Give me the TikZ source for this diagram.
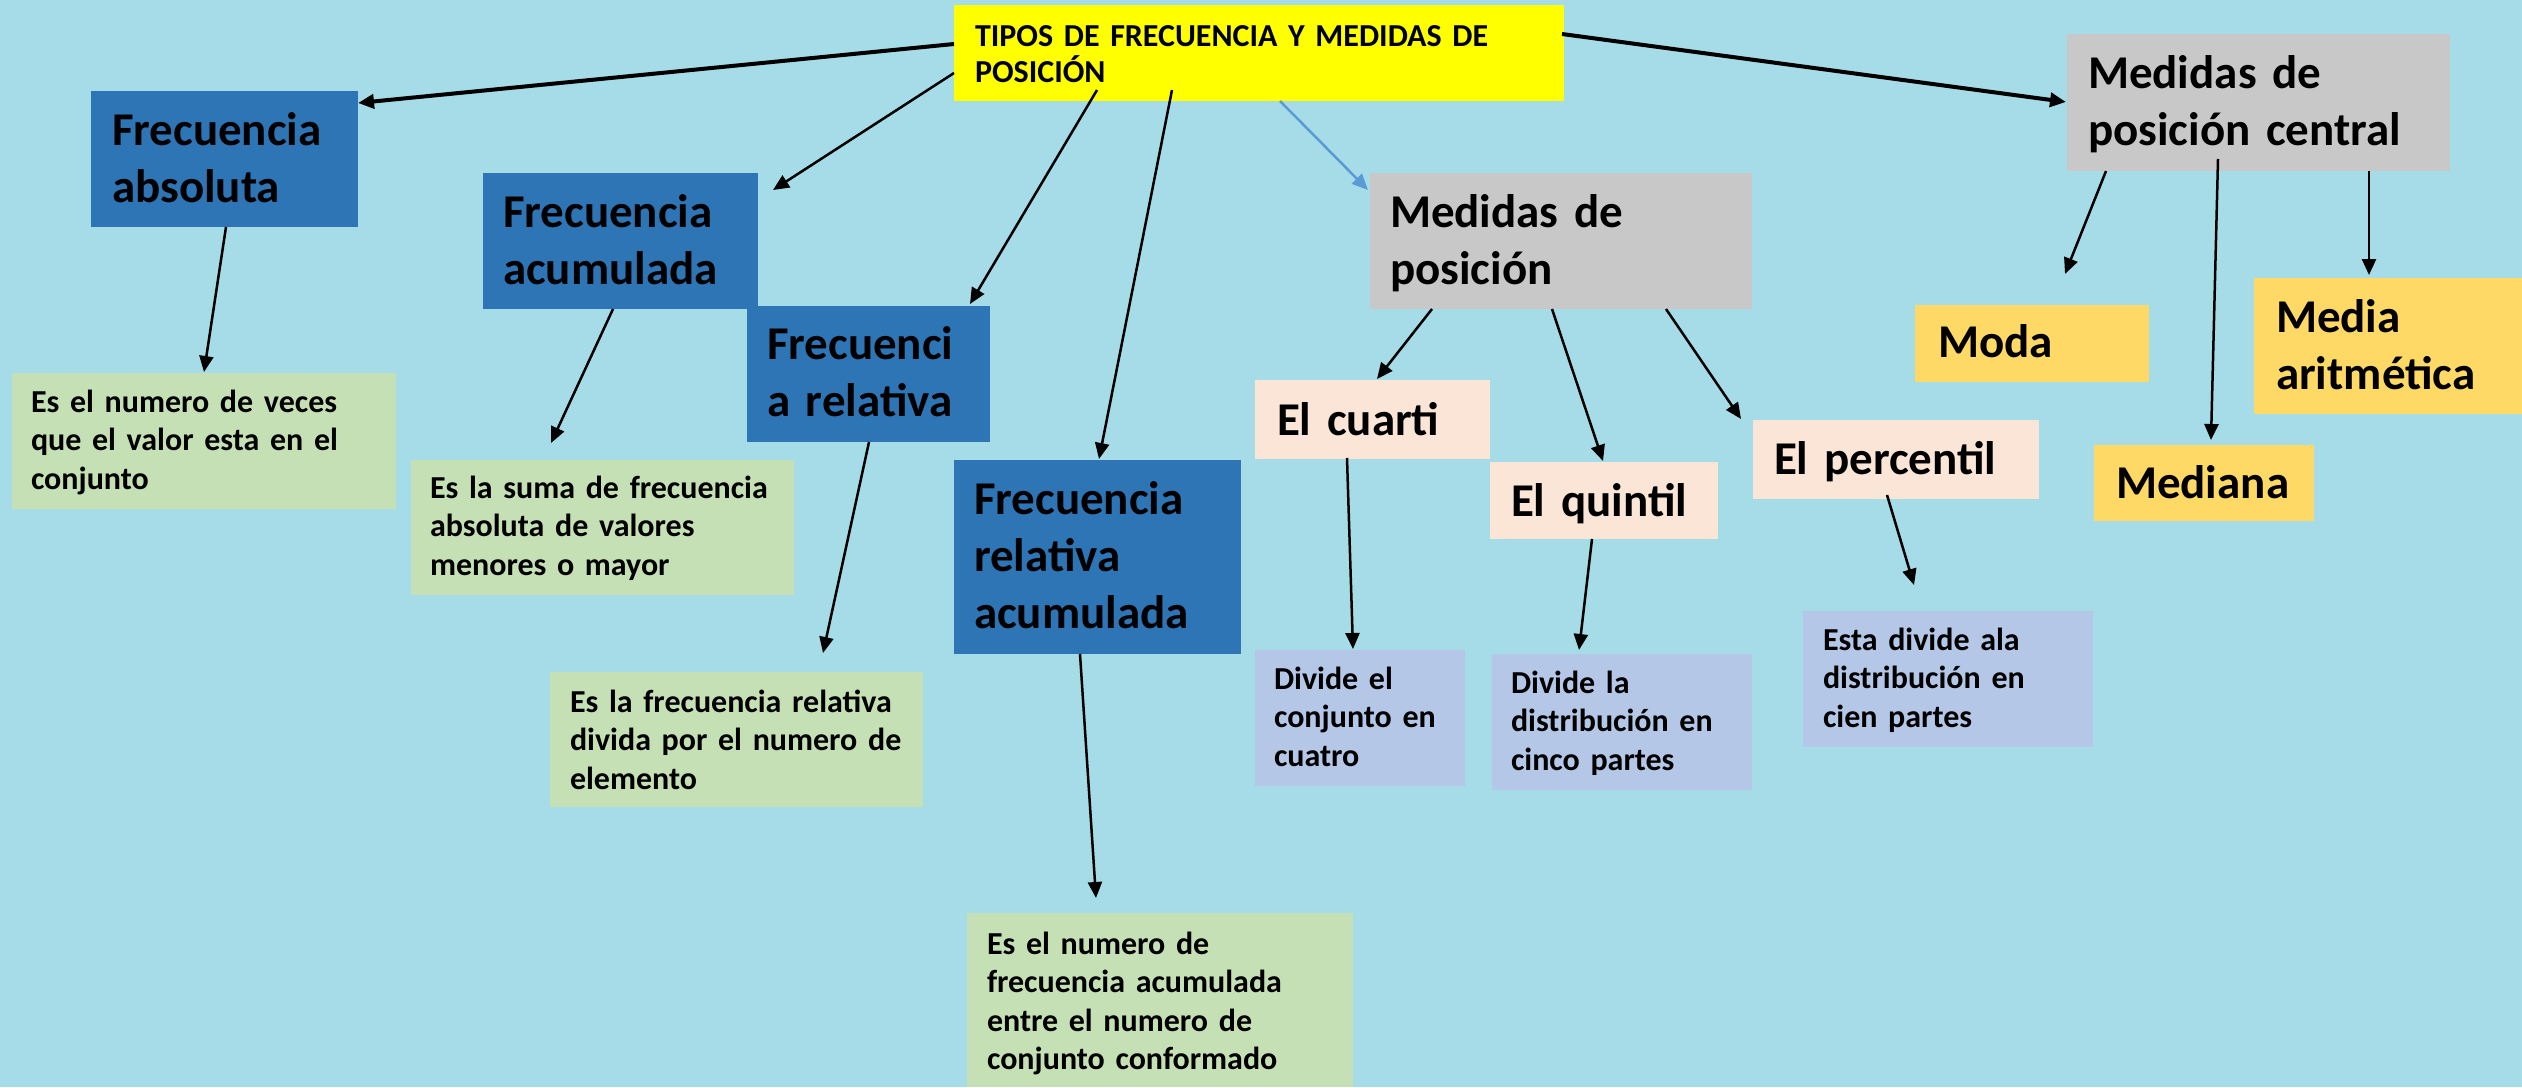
\documentclass[tikz,border=0pt]{standalone}
\usepackage{fontspec}
\setmainfont{Carlito}
\usetikzlibrary{arrows.meta,calc}
\definecolor{bg}{RGB}{166,220,231}
\definecolor{boxblue}{RGB}{46,117,182}
\definecolor{boxgray}{RGB}{200,200,200}
\definecolor{boxgreen}{RGB}{197,224,180}
\definecolor{boxpeach}{RGB}{251,229,214}
\definecolor{boxlav}{RGB}{180,199,231}
\definecolor{boxgold}{RGB}{255,217,102}
\definecolor{boxyellow}{RGB}{255,255,0}
\definecolor{linkblue}{RGB}{91,155,213}
\tikzset{
  cbox/.style={anchor=north west, inner sep=0pt, outer sep=0pt, draw=none},
  bigtxt/.style={anchor=base west, inner sep=0pt, outer sep=0pt, text width=420pt,
    font={\bfseries\fontsize{47}{57}\selectfont\spaceskip=0.226em\relax}},
  smalltxt/.style={anchor=base west, inner sep=0pt, outer sep=0pt, text width=420pt,
    font={\bfseries\fontsize{32}{38.5}\selectfont\spaceskip=0.226em\relax}},
  titletxt/.style={anchor=base west, inner sep=0pt, outer sep=0pt, text width=600pt,
    font={\bfseries\fontsize{32}{36}\selectfont\spaceskip=0.226em\relax}},
  conn/.style={-{Triangle[length=16pt,width=14pt]}, line width=2.5pt, draw=black},
  thickconn/.style={conn, line width=4pt},
  blueconn/.style={conn, draw=linkblue, -{Triangle[length=16pt,width=14pt,fill=linkblue]}},
}
\begin{document}
\begin{tikzpicture}[x=1pt,y=-1pt]
\useasboundingbox (0,0) rectangle (2522,1087);
\fill[bg] (0,0) rectangle (2522,1087);

% boxes
\node[cbox, fill=boxyellow, minimum width=610pt, minimum height=96pt] (title) at (954,5) {};
\node[titletxt] (title-t) at ($(title.north west)+(21,41)$) {TIPOS DE FRECUENCIA Y MEDIDAS DE\\POSICIÓN};

\node[cbox, fill=boxblue, minimum width=267pt, minimum height=136pt] (fa) at (91,91) {};
\node[bigtxt] (fa-t) at ($(fa.north west)+(21,54)$) {Frecuencia\\absoluta};

\node[cbox, fill=boxblue, minimum width=275pt, minimum height=136pt] (fac) at (483,173) {};
\node[bigtxt] (fac-t) at ($(fac.north west)+(20,54)$) {Frecuencia\\acumulada};

\node[cbox, fill=boxblue, minimum width=243pt, minimum height=136pt] (fr) at (747,306) {};
\node[bigtxt] (fr-t) at ($(fr.north west)+(20,53)$) {Frecuenci\\a relativa};

\node[cbox, fill=boxblue, minimum width=287pt, minimum height=194pt] (fra) at (954,460) {};
\node[bigtxt] (fra-t) at ($(fra.north west)+(20,54)$) {Frecuencia\\relativa\\acumulada};

\node[cbox, fill=boxgreen, minimum width=384pt, minimum height=136pt] (g1) at (12,373) {};
\node[smalltxt] (g1-t) at ($(g1.north west)+(19,39)$) {Es el numero de veces\\que el valor esta en el\\conjunto};

\node[cbox, fill=boxgreen, minimum width=383pt, minimum height=135pt] (g2) at (411,460) {};
\node[smalltxt] (g2-t) at ($(g2.north west)+(19,38)$) {Es la suma de frecuencia\\absoluta de valores\\menores o mayor};

\node[cbox, fill=boxgreen, minimum width=373pt, minimum height=135pt] (g3) at (550,672) {};
\node[smalltxt] (g3-t) at ($(g3.north west)+(20,40)$) {Es la frecuencia relativa\\divida por el numero de\\elemento};

\node[cbox, fill=boxgreen, minimum width=386pt, minimum height=174pt] (g4) at (967,913) {};
\node[smalltxt] (g4-t) at ($(g4.north west)+(20,41)$) {Es el numero de\\frecuencia acumulada\\entre el numero de\\conjunto conformado};

\node[cbox, fill=boxgray, minimum width=382pt, minimum height=136pt] (mp) at (1370,173) {};
\node[bigtxt] (mp-t) at ($(mp.north west)+(20,54)$) {Medidas de\\posición};

\node[cbox, fill=boxgray, minimum width=383pt, minimum height=137pt] (mpc) at (2067,34) {};
\node[bigtxt] (mpc-t) at ($(mpc.north west)+(21,54)$) {Medidas de\\posición central};

\node[cbox, fill=boxgold, minimum width=234pt, minimum height=77pt] (moda) at (1915,305) {};
\node[bigtxt] (moda-t) at ($(moda.north west)+(23,52)$) {Moda};

\node[cbox, fill=boxgold, minimum width=268pt, minimum height=136pt] (media) at (2254,278) {};
\node[bigtxt] (media-t) at ($(media.north west)+(22,54)$) {Media\\aritmética};

\node[cbox, fill=boxpeach, minimum width=235pt, minimum height=79pt] (cuarti) at (1255,380) {};
\node[bigtxt] (cuarti-t) at ($(cuarti.north west)+(22,55)$) {El cuarti};

\node[cbox, fill=boxpeach, minimum width=228pt, minimum height=77pt] (quintil) at (1490,462) {};
\node[bigtxt] (quintil-t) at ($(quintil.north west)+(21,54)$) {El quintil};

\node[cbox, fill=boxpeach, minimum width=286pt, minimum height=79pt] (percentil) at (1753,420) {};
\node[bigtxt] (percentil-t) at ($(percentil.north west)+(21,54)$) {El percentil};

\node[cbox, fill=boxgold, minimum width=220pt, minimum height=76pt] (mediana) at (2094,445) {};
\node[bigtxt] (mediana-t) at ($(mediana.north west)+(22,53)$) {Mediana};

\node[cbox, fill=boxlav, minimum width=210pt, minimum height=136pt] (d1) at (1255,650) {};
\node[smalltxt] (d1-t) at ($(d1.north west)+(19,39)$) {Divide el\\conjunto en\\cuatro};

\node[cbox, fill=boxlav, minimum width=260pt, minimum height=136pt] (d2) at (1492,654) {};
\node[smalltxt] (d2-t) at ($(d2.north west)+(19,39)$) {Divide la\\distribución en\\cinco partes};

\node[cbox, fill=boxlav, minimum width=290pt, minimum height=136pt] (d3) at (1803,611) {};
\node[smalltxt] (d3-t) at ($(d3.north west)+(20,39)$) {Esta divide ala\\distribución en\\cien partes};

% connectors
\draw[thickconn] ($(title.north west)+(0,39)$) -- ($(fa.north east)+(0,12)$);
\draw[conn] ($(title.north west)+(0,68)$) -- ($(fac.north east)+(15,17)$);
\draw[conn] ($(title.north west)+(143,85)$) -- ($(fr.north west)+(223,-2)$);
\draw[conn] ($(title.north west)+(218,85)$) -- ($(fra.north west)+(145,-1)$);
\draw[blueconn] ($(title.north west)+(326,96)$) -- ($(mp.north west)+(-2,17)$);
\draw[thickconn] ($(title.north west)+(608,29)$) -- ($(mpc.north west)+(-1,68)$);

\draw[conn] ($(fa.north west)+(135,136)$) -- ($(g1.north west)+(192,-1)$);
\draw[conn] ($(fac.north west)+(130,136)$) -- ($(g2.north west)+(140,-17)$);
\draw[conn] ($(fr.north west)+(122,136)$) -- ($(g3.north west)+(273,-19)$);
\draw[conn] ($(fra.north west)+(126,194)$) -- ($(g4.north west)+(129,-15)$);

\draw[conn] ($(mp.north west)+(62,136)$) -- ($(cuarti.north west)+(122,-1)$);
\draw[conn] ($(mp.north west)+(182,136)$) -- ($(quintil.north west)+(113,-1)$);
\draw[conn] ($(mp.north west)+(296,136)$) -- ($(percentil.north west)+(-12,-1)$);

\draw[conn] ($(mpc.north west)+(39,137)$) -- ($(moda.north west)+(150,-31)$);
\draw[conn] ($(mpc.north west)+(151,125)$) -- ($(mediana.north west)+(117,-5)$);
\draw[conn] ($(mpc.north west)+(302,137)$) -- ($(media.north west)+(115,-3)$);

\draw[conn] ($(cuarti.north west)+(92,78)$) -- ($(d1.north west)+(98,-1)$);
\draw[conn] ($(quintil.north west)+(102,77)$) -- ($(d2.north west)+(87,-4)$);
\draw[conn] ($(percentil.north west)+(134,75)$) -- ($(d3.north west)+(111,-26)$);
\end{tikzpicture}
\end{document}
